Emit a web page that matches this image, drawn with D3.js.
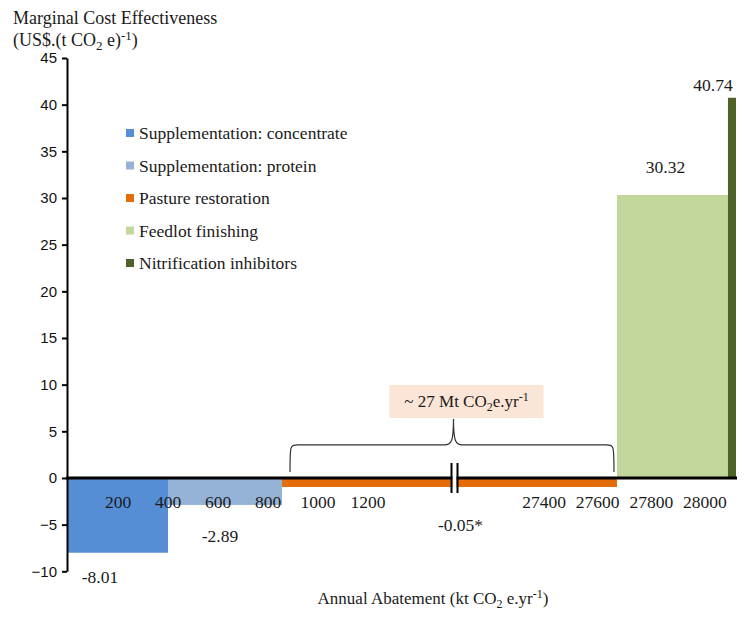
<!DOCTYPE html>
<html>
<head>
<meta charset="utf-8">
<script src="https://cdn.jsdelivr.net/npm/d3@7"></script>
<style>
  body { margin: 0; background: #fff; }
  svg { display: block; }
  .serif { font-family: "Liberation Serif", "Times New Roman", serif; fill: #1a1a1a; }
  .y.axis text { font-family: "Liberation Sans", Arial, sans-serif; font-size: 15px; fill: #111; }
  .y.axis path, .y.axis line { stroke: #000; stroke-width: 2px; }
</style>
</head>
<body>
<div id="chart"></div>
<script>
// options, in order along the curve
var options = ["Supplementation: concentrate", "Supplementation: protein", "Pasture restoration",
               "Feedlot finishing", "Nitrification inhibitors"];
// abatement of each option (kt CO2e / yr)
var abatement = [400, 456, 26816, 414, 30];
// marginal cost effectiveness (US$ / t CO2e)
var cost = [-8.01, -2.89, -0.05, 30.32, 40.74];
var valueLabels = ["-8.01", "-2.89", "-0.05*", "30.32", "40.74"];
var colors = ["#558ed5", "#95b3d7", "#e46c0a", "#c3d69b", "#4f6228"];

var xTicks = [200, 400, 600, 800, 1000, 1200, 27400, 27600, 27800, 28000];
var yTicks = [-10, -5, 0, 5, 10, 15, 20, 25, 30, 35, 40, 45];
var breakLow = 1546, breakHigh = 27066;   // axis is broken between these

var W = 745, H = 617;

var svg = d3.select("#chart").append("svg")
    .attr("width", W)
    .attr("height", H);

// cumulative start / end of each bar
var bars = [], acc = 0;
options.forEach(function(name, i) {
    bars.push({name: name, x0: acc, x1: acc + abatement[i], v: cost[i], label: valueLabels[i], color: colors[i]});
    acc += abatement[i];
});

var x = d3.scaleLinear()
    .domain([0, breakLow, breakHigh, acc])
    .range([68, 454.5, 454.5, 736]);

var y = d3.scaleLinear()
    .domain([-10, 45])
    .range([571.3, 58]);

// bars
svg.selectAll(".bar")
    .data(bars)
    .enter().append("rect")
    .attr("class", "bar")
    .attr("x", function(d) { return x(d.x0); })
    .attr("width", function(d) { return x(d.x1) - x(d.x0); })
    .attr("y", function(d) { return d.v >= 0 ? y(d.v) : y(0); })
    .attr("height", function(d) { return Math.max(Math.abs(y(d.v) - y(0)), 9); })
    .style("fill", function(d) { return d.color; });

// y axis
svg.append("g")
    .attr("class", "y axis")
    .attr("transform", "translate(67,0)")
    .call(d3.axisLeft(y).tickValues(yTicks).tickSize(5).tickSizeOuter(0).tickPadding(5));

// zero line
svg.append("line")
    .attr("x1", 66).attr("x2", 737)
    .attr("y1", y(0)).attr("y2", y(0))
    .style("stroke", "#000")
    .style("stroke-width", 3);

// x tick labels sit on top of the negative bars
svg.selectAll(".xtick")
    .data(xTicks)
    .enter().append("text")
    .attr("class", "xtick serif")
    .attr("x", function(d) { return x(d); })
    .attr("y", y(0) + 30)
    .attr("text-anchor", "middle")
    .style("font-size", "17.5px")
    .text(function(d) { return d; });

// axis break
var bx = x(breakLow);
svg.append("rect")
    .attr("x", bx - 2).attr("y", y(0) - 12)
    .attr("width", 4).attr("height", 26)
    .style("fill", "#fff");
[bx - 3, bx + 3].forEach(function(px) {
    svg.append("line")
        .attr("x1", px).attr("x2", px)
        .attr("y1", y(0) - 15).attr("y2", y(0) + 15)
        .style("stroke", "#000")
        .style("stroke-width", 2);
});

// value labels: anchored to the end of each bar, nudged as in the figure
var labelAnchor = [
    function(d) { return [x(d.x0) + 32, y(d.v) + 30]; },
    function(d) { return [(x(d.x0) + x(d.x1)) / 2 - 5, y(d.v) + 37]; },
    function(d) { return [bx + 6, y(0) + 53]; },
    function(d) { return [(x(d.x0) + x(d.x1)) / 2 - 7, y(d.v) - 22]; },
    function(d) { return [x(d.x1) - 23, y(d.v) - 7]; }
];
svg.selectAll(".vlabel")
    .data(bars)
    .enter().append("text")
    .attr("class", "vlabel serif")
    .attr("x", function(d, i) { return labelAnchor[i](d)[0]; })
    .attr("y", function(d, i) { return labelAnchor[i](d)[1]; })
    .attr("text-anchor", "middle")
    .style("font-size", "17.5px")
    .text(function(d) { return d.label; });

// brace over pasture restoration
var pb = bars[2];
var bl = x(pb.x0) + 8, br = x(pb.x1) - 3, mid = bx - 1;
var bTop = y(0) - 33, bBot = y(0) - 6, bTip = bTop - 26;
var brace = d3.path();
brace.moveTo(bl, bBot);
brace.bezierCurveTo(bl, bTop, bl, bTop, bl + 8, bTop);
brace.lineTo(mid - 9, bTop);
brace.bezierCurveTo(mid - 2, bTop, mid, bTop - 4, mid, bTip);
brace.bezierCurveTo(mid, bTop - 4, mid + 2, bTop, mid + 9, bTop);
brace.lineTo(br - 8, bTop);
brace.bezierCurveTo(br, bTop, br, bTop, br, bBot);
svg.append("path")
    .attr("d", brace.toString())
    .style("fill", "none")
    .style("stroke", "#333")
    .style("stroke-width", 1.2);

svg.append("rect")
    .attr("x", mid - 64).attr("y", bTip - 34)
    .attr("width", 154).attr("height", 33)
    .style("fill", "#fbe5d6");

var ann = svg.append("text")
    .attr("class", "serif")
    .attr("x", mid + 13).attr("y", bTip - 12)
    .attr("text-anchor", "middle")
    .style("font-size", "17px");
ann.append("tspan").text("~ 27 Mt CO");
ann.append("tspan").attr("dy", 4).style("font-size", "12px").text("2");
ann.append("tspan").attr("dy", -4).text("e.yr");
ann.append("tspan").attr("dy", -6).style("font-size", "12px").text("-1");

// legend
var legend = svg.selectAll(".legend")
    .data(bars)
    .enter().append("g")
    .attr("class", "legend")
    .attr("transform", function(d, i) { return "translate(126," + (133 + i * 32.5) + ")"; });

legend.append("rect")
    .attr("x", 0).attr("y", -4)
    .attr("width", 8).attr("height", 8)
    .style("fill", function(d) { return d.color; });

legend.append("text")
    .attr("class", "serif")
    .attr("x", 13)
    .attr("y", 0)
    .attr("dy", ".35em")
    .style("font-size", "17.5px")
    .text(function(d) { return d.name; });

// y title
svg.append("text")
    .attr("class", "serif")
    .attr("x", 13).attr("y", 24)
    .style("font-size", "18px")
    .text("Marginal Cost Effectiveness");
var yt = svg.append("text")
    .attr("class", "serif")
    .attr("x", 13).attr("y", 46)
    .style("font-size", "18px");
yt.append("tspan").text("(US$.(t CO");
yt.append("tspan").attr("dy", 4).style("font-size", "13px").text("2");
yt.append("tspan").attr("dy", -4).text(" e)");
yt.append("tspan").attr("dy", -6).style("font-size", "13px").text("-1");
yt.append("tspan").attr("dy", 6).text(")");

// x title
var xt = svg.append("text")
    .attr("class", "serif")
    .attr("x", 433).attr("y", 604)
    .attr("text-anchor", "middle")
    .style("font-size", "17px");
xt.append("tspan").text("Annual Abatement (kt CO");
xt.append("tspan").attr("dy", 4).style("font-size", "12px").text("2");
xt.append("tspan").attr("dy", -4).text(" e.yr");
xt.append("tspan").attr("dy", -6).style("font-size", "12px").text("-1");
xt.append("tspan").attr("dy", 6).text(")");
</script>
</body>
</html>
